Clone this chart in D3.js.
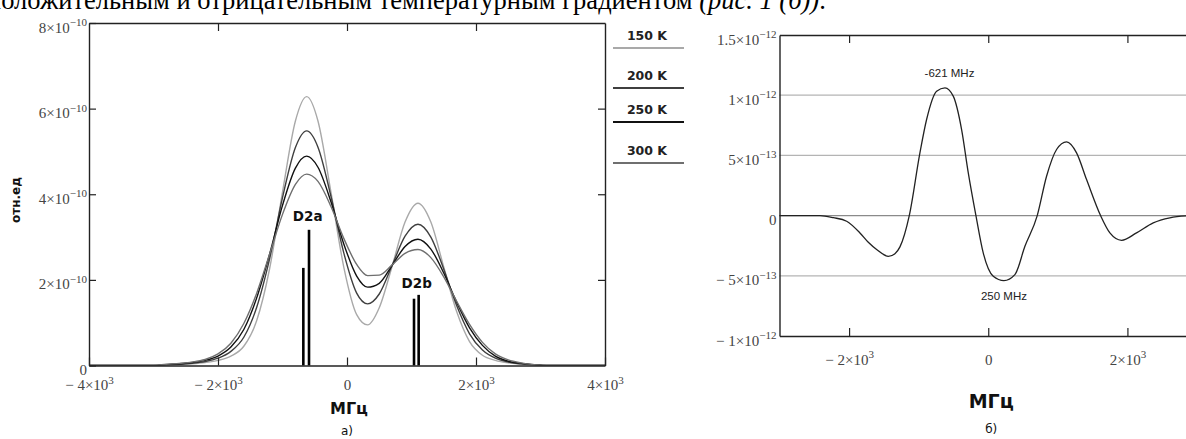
<!DOCTYPE html>
<html><head><meta charset="utf-8">
<script src="https://cdn.jsdelivr.net/npm/d3@7"></script>
<style>
html,body{margin:0;padding:0;background:#fff;overflow:hidden}
svg{display:block}
</style></head><body>
<svg id="c" width="1186" height="439"></svg>
<script>
// ---------- DATA (left panel: absorption profiles, units of 1e-10) ----------
const freqs = [-4000,-3000,-2800,-2600,-2400,-2200,-2000,-1800,-1600,-1400,-1200,-1000,-800,-625,-450,-250,-50,150,320,500,700,900,1100,1300,1500,1700,1900,2100,2300,2500,2700,2900,3100,4000];
const prof150 = [0,0,0.01,0.02,0.04,0.07,0.12,0.22,0.45,1.05,2.26,4.05,5.71,6.28,5.71,4.06,2.30,1.19,0.95,1.35,2.32,3.35,3.79,3.35,2.30,1.26,0.56,0.24,0.12,0.06,0.03,0.01,0,0];
const prof200 = [0,0,0.01,0.03,0.05,0.09,0.17,0.33,0.66,1.36,2.49,3.92,5.09,5.48,5.10,3.96,2.63,1.69,1.44,1.67,2.34,3.02,3.30,3.00,2.25,1.40,0.74,0.36,0.17,0.08,0.04,0.01,0,0];
const prof250 = [0,0,0.02,0.04,0.07,0.12,0.22,0.43,0.84,1.58,2.60,3.74,4.61,4.89,4.63,3.83,2.84,2.09,1.83,1.92,2.34,2.78,2.95,2.72,2.16,1.48,0.88,0.47,0.22,0.10,0.05,0.02,0,0];
const prof300 = [0,0,0.03,0.05,0.08,0.14,0.27,0.52,0.98,1.69,2.60,3.53,4.23,4.47,4.30,3.72,2.97,2.36,2.10,2.11,2.35,2.62,2.71,2.52,2.07,1.50,0.96,0.54,0.27,0.13,0.06,0.02,0,0];
const seriesNames = ["150 K","200 K","250 K","300 K"];
const stickFreqs = [-677,-589,1039,1111];
const stickHeights = [2.28,3.17,1.56,1.65];
const stickLabels = ["D2a","D2b"];
const stickLabelFreqs = [-609,1081];
const stickLabelVals = [3.48,1.93];
const leftXTicks = [-4000,-2000,0,2000,4000];
const leftXTickLabels = [["− 4×10","3"],["− 2×10","3"],["0",""],["2×10","3"],["4×10","3"]];
const leftYTicks = [0,2,4,6,8];
const leftYTickLabels = [["0",""],["2×10","−10"],["4×10","−10"],["6×10","−10"],["8×10","−10"]];

// ---------- DATA (right panel: difference signal, units of 1e-13) ----------
const diffFreqs = [-3000,-2418,-2227,-2035,-1844,-1724,-1604,-1437,-1341,-1269,-1135,-982,-886,-742,-622,-503,-383,-287,-177,-72,72,225,383,527,704,838,982,1126,1269,1413,1614,1748,1916,2131,2371,2610,2840,3000];
const diffVals = [0,0,-0.17,-0.47,-1.44,-2.22,-2.82,-3.38,-3.16,-2.60,0,5.21,7.98,10.33,10.61,9.92,7.15,3.55,0,-3.10,-5.04,-5.40,-4.90,-2.55,0,3.27,5.49,6.12,5.21,2.99,0,-1.44,-2.05,-1.44,-0.61,-0.19,-0.03,0];
const rightXTicks = [-2000,0,2000];
const rightXTickLabels = [["− 2×10","3"],["0",""],["2×10","3"]];
const rightYTicks = [15,10,5,0,-5,-10];
const rightYTickLabels = [["1.5×10","−12"],["1×10","−12"],["5×10","−13"],["0",""],["− 5×10","−13"],["− 1×10","−12"]];
const rightGrid = [10,5,0,-5];
const annotTexts = ["-621 MHz","250 MHz"];
const annotFreqs = [-557,226];
const annotVals = [11.85,-6.64];

// ---------- DRAW ----------
const svg = d3.select("#c");
const serif = "'Liberation Serif','Times New Roman',serif";
const sans = "'DejaVu Sans',Verdana,sans-serif";

// top running text (cropped line of the page)
const topLine = svg.append("text").attr("x",-13).attr("y",9)
  .attr("font-family",serif).attr("font-size",26.5).attr("fill","#000");
topLine.append("tspan").text("положительным и отрицательным температурным градиентом ");
topLine.append("tspan").attr("font-style","italic").text("(рис. 1 (б))");
topLine.append("tspan").text(".");

function supLabels(sel, labels){
  sel.selectAll(".tick text").each(function(d,i){
    const t = d3.select(this); t.text(null);
    t.append("tspan").text(labels[i][0]);
    if(labels[i][1]) t.append("tspan").attr("dy","-0.6em").attr("font-size","11px").text(labels[i][1]);
  }).attr("font-family",serif).attr("font-size",15).attr("fill","#444");
}

// ===== Left panel =====
const xL = d3.scaleLinear().domain([-4000,4000]).range([89,605]);
const yL = d3.scaleLinear().domain([0,8]).range([365.5,23]);

svg.append("defs").append("clipPath").attr("id","clipL")
  .append("rect").attr("x",89).attr("y",23).attr("width",516).attr("height",342.5);

const series = [prof150,prof200,prof250,prof300];
const colors = ["#a9a9a9","#3f3f3f","#111111","#6f6f6f"];
const line = d3.line().x((d,i)=>xL(freqs[i])).y(d=>yL(d)).curve(d3.curveMonotoneX);
const gl = svg.append("g").attr("clip-path","url(#clipL)");
series.forEach((s,k)=>{
  gl.append("path").attr("d",line(s)).attr("fill","none").attr("stroke",colors[k]).attr("stroke-width",1.4);
});
// sticks
svg.append("g").selectAll("line").data(stickFreqs).join("line")
  .attr("x1",d=>xL(d)).attr("x2",d=>xL(d)).attr("y1",yL(0))
  .attr("y2",(d,i)=>yL(stickHeights[i])).attr("stroke","#000").attr("stroke-width",2.6);
svg.append("g").selectAll("text").data(stickLabels).join("text")
  .attr("x",(d,i)=>xL(stickLabelFreqs[i])).attr("y",(d,i)=>yL(stickLabelVals[i]))
  .attr("dy","0.36em").attr("text-anchor","middle")
  .attr("font-family",sans).attr("font-weight","bold").attr("font-size",13.5).attr("fill","#111")
  .text(d=>d);

// axes (inward ticks)
const axB = svg.append("g").attr("transform",`translate(0,${yL(0)})`)
  .call(d3.axisBottom(xL).tickValues(leftXTicks).tickSizeInner(-8).tickSizeOuter(0).tickPadding(14));
supLabels(axB, leftXTickLabels);
const axLft = svg.append("g").attr("transform",`translate(${xL(-4000)},0)`)
  .call(d3.axisLeft(yL).tickValues(leftYTicks).tickSizeInner(-7).tickSizeOuter(0).tickPadding(2));
supLabels(axLft, leftYTickLabels);
axLft.selectAll(".tick text").attr("dy","0.6em");
svg.append("g").attr("transform",`translate(0,${yL(8)})`)
  .call(d3.axisTop(xL).tickValues([-2000,0,2000]).tickSizeInner(-8).tickSizeOuter(0).tickFormat(""));
svg.append("g").attr("transform",`translate(${xL(4000)},0)`)
  .call(d3.axisRight(yL).tickValues([2,4,6]).tickSizeInner(-7).tickSizeOuter(0).tickFormat(""));

svg.append("text").attr("transform","translate(16,200) rotate(-90)").attr("text-anchor","middle")
  .attr("dy","0.35em").attr("font-family",sans).attr("font-weight","bold").attr("font-size",12).attr("fill","#111").text("отн.ед");
svg.append("text").attr("x",xL(0)+2).attr("y",414).attr("text-anchor","middle")
  .attr("font-family",sans).attr("font-weight","bold").attr("font-size",16).attr("fill","#111").text("МГц");
svg.append("text").attr("x",xL(0)).attr("y",435).attr("text-anchor","middle")
  .attr("font-family",sans).attr("font-size",12).attr("fill","#111").text("а)");

// legend
const legY = [48,88,122,163];
const lg = svg.append("g");
seriesNames.forEach((n,k)=>{
  lg.append("line").attr("x1",613).attr("x2",684).attr("y1",legY[k]).attr("y2",legY[k])
    .attr("stroke",colors[k]).attr("stroke-width",2);
  lg.append("text").attr("x",647).attr("y",legY[k]-13).attr("dy","0.36em").attr("text-anchor","middle")
    .attr("font-family",sans).attr("font-weight","bold").attr("font-size",12.5).attr("fill","#222").text(n);
});

// ===== Right panel =====
const xR = d3.scaleLinear().domain([-3000,3000]).range([779.5,1197]);
const yR = d3.scaleLinear().domain([-10,15]).range([336,35]);
svg.append("g").selectAll("line").data(rightGrid).join("line")
  .attr("x1",xR(-3000)).attr("x2",xR(3000)).attr("y1",d=>yR(d)).attr("y2",d=>yR(d))
  .attr("stroke",d=>d===0?"#8a8a8a":"#b4b4b4").attr("stroke-width",1.2);
const lineR = d3.line().x((d,i)=>xR(diffFreqs[i])).y(d=>yR(d)).curve(d3.curveMonotoneX);
svg.append("path").attr("d",lineR(diffVals)).attr("fill","none").attr("stroke","#222").attr("stroke-width",1.3);

const rB = svg.append("g").attr("transform",`translate(0,${yR(-10)})`)
  .call(d3.axisBottom(xR).tickValues(rightXTicks).tickSizeInner(-8).tickSizeOuter(0).tickPadding(18));
supLabels(rB, rightXTickLabels);
const rL = svg.append("g").attr("transform",`translate(${xR(-3000)},0)`)
  .call(d3.axisLeft(yR).tickValues(rightYTicks).tickSizeInner(0).tickSizeOuter(0).tickPadding(3));
supLabels(rL, rightYTickLabels);
rL.selectAll(".tick text").attr("dy","0.6em");
svg.append("g").attr("transform",`translate(0,${yR(15)})`)
  .call(d3.axisTop(xR).tickValues(rightXTicks).tickSizeInner(-8).tickSizeOuter(0).tickFormat(""));
svg.selectAll(".domain").attr("stroke","#222").attr("stroke-width",1.4);
svg.selectAll(".tick line").attr("stroke","#222").attr("stroke-width",1.2);

svg.append("g").selectAll("text").data(annotTexts).join("text")
  .attr("x",(d,i)=>xR(annotFreqs[i])).attr("y",(d,i)=>yR(annotVals[i])).attr("dy","0.36em")
  .attr("text-anchor","middle").attr("font-family","'Liberation Sans',Arial,sans-serif").attr("font-size",11.5)
  .attr("fill","#222").text(d=>d);
svg.append("text").attr("x",xR(0)+3).attr("y",408).attr("text-anchor","middle")
  .attr("font-family",sans).attr("font-weight","bold").attr("font-size",19).attr("fill","#111").text("МГц");
svg.append("text").attr("x",xR(0)+3).attr("y",433).attr("text-anchor","middle")
  .attr("font-family",sans).attr("font-size",12).attr("fill","#111").text("б)");
</script>
</body></html>
